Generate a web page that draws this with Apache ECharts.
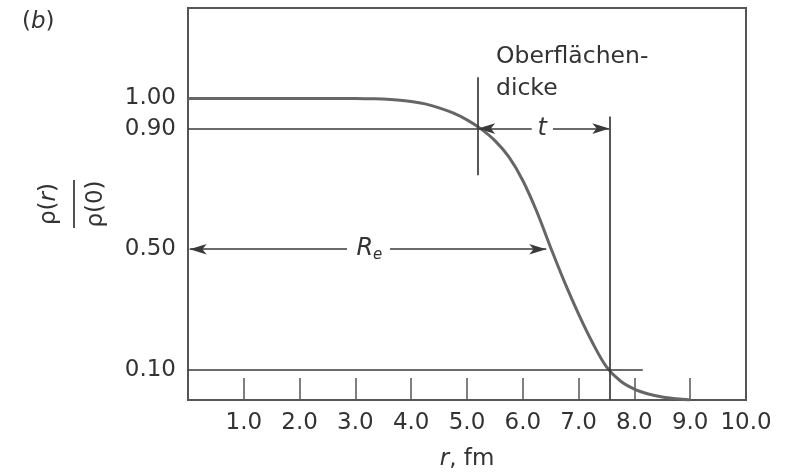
<!DOCTYPE html>
<html><head><meta charset="utf-8">
<script src="https://cdn.jsdelivr.net/npm/echarts@6/dist/echarts.min.js"></script>
<style>html,body{margin:0;padding:0;background:#fff}#c{width:786px;height:476px}</style>
</head><body><div id="c"></div>
<script>
// radius r (fm) and relative density rho(r)/rho(0)
const rValues       = [0, 0.25, 0.5, 0.75, 1, 1.25, 1.5, 1.75, 2, 2.25, 2.5, 2.75, 3, 3.25, 3.5, 3.75, 4, 4.25, 4.5, 4.75, 5, 5.25, 5.5, 5.75, 6, 6.25, 6.5, 6.75, 7, 7.25, 7.5, 7.75, 8, 8.25, 8.5, 8.75, 9];
const densityValues = [1, 1, 1, 1, 1, 1, 1, 1, 1, 1, 1, 1, 1, 0.999, 0.998, 0.995, 0.99, 0.982, 0.969, 0.952, 0.929, 0.899, 0.86, 0.806, 0.728, 0.625, 0.505, 0.39, 0.285, 0.19, 0.11, 0.063, 0.036, 0.02, 0.01, 0.004, 0.0];
const xTickValues = [1, 2, 3, 4, 5, 6, 7, 8, 9];
const xLabelValues = [1, 2, 3, 4, 5, 6, 7, 8, 9, 10];
const yLabelValues = [0.10, 0.50, 0.90, 1.00];
// annotation positions (data units)
const r90 = 5.2;     // r where density = 0.9
const r10 = 7.55;    // r where density = 0.1
const rHalf = 6.42;  // tip of R_e arrow
const levelHigh = 0.9, levelHalf = 0.5, levelLow = 0.1;

const FONT = 'DejaVu Sans';
const FS = 23;
const TXT = '#333';
const LINE = '#3a3a3a';

const chart = echarts.init(document.getElementById('c'), null, {renderer: 'canvas'});
const seg = (a, b, arrowEnd) => [
  {coord: a, symbol: 'none'},
  {coord: b, symbol: arrowEnd ? 'arrow' : 'none', symbolSize: [8, 17]}
];

chart.setOption({
  animation: false,
  backgroundColor: '#fff',
  grid: {left: 188, right: 40, top: 8, bottom: 76, show: true, borderColor: '#555', borderWidth: 2, backgroundColor: 'transparent'},
  xAxis: {
    type: 'value', min: 0, max: 10, interval: 1,
    axisLine: {show: true, lineStyle: {color: '#555', width: 2}},
    axisTick: {show: true, inside: true, length: 22, customValues: xTickValues, lineStyle: {color: '#555', width: 1.5}},
    axisLabel: {customValues: xLabelValues, formatter: v => v.toFixed(1), fontFamily: FONT, fontSize: FS, color: TXT, margin: 12},
    splitLine: {show: false},
    name: '{i|r}, fm', nameLocation: 'middle', nameGap: 48,
    nameTextStyle: {fontFamily: FONT, fontSize: FS, color: TXT, rich: {i: {fontFamily: FONT, fontSize: FS, fontStyle: 'italic', color: TXT}}}
  },
  yAxis: {
    type: 'value', min: 0, max: 1.3,
    axisLine: {show: true, lineStyle: {color: '#555', width: 2}},
    axisTick: {show: false},
    axisLabel: {customValues: yLabelValues, formatter: v => v.toFixed(2), fontFamily: FONT, fontSize: FS, color: TXT, margin: 12},
    splitLine: {show: false}
  },
  series: [{
    type: 'line',
    data: rValues.map((r, i) => [r, densityValues[i]]),
    smooth: 0.35, showSymbol: false,
    lineStyle: {color: '#666', width: 3},
    markLine: {
      silent: true, animation: false,
      label: {show: false},
      lineStyle: {color: LINE, width: 1.7, type: 'solid'},
      data: [
        seg([0, levelHigh], [r90, levelHigh], false),
        seg([r90, 1.07], [r90, 0.745], false),
        seg([6.16, levelHigh], [r90, levelHigh], true),
        seg([6.54, levelHigh], [r10, levelHigh], true),
        seg([r10, 0.94], [r10, 0], false),
        seg([0, levelLow], [8.15, levelLow], false),
        seg([2.85, levelHalf], [0.03, levelHalf], true),
        seg([3.62, levelHalf], [rHalf, levelHalf], true)
      ]
    }
  }]
});

const px = (x, y) => chart.convertToPixel({gridIndex: 0}, [x, y]);
const pRe = px(3.25, levelHalf);
const pT = px(6.35, levelHigh);

chart.setOption({
  graphic: [
    {type: 'text', left: 22, top: 11, style: {text: '({i|b})', fontFamily: FONT, fontSize: FS, fill: TXT,
      rich: {i: {fontFamily: FONT, fontSize: FS, fontStyle: 'italic', fill: TXT}}}},
    {type: 'text', x: pRe[0], y: pRe[1], style: {text: '{i|R}{s|e}', align: 'center', verticalAlign: 'middle',
      rich: {i: {fontFamily: FONT, fontSize: 24, fontStyle: 'italic', fill: TXT}, s: {fontFamily: FONT, fontSize: 15, fontStyle: 'italic', fill: TXT, verticalAlign: 'bottom', padding: [12, 0, 0, 0]}}}},
    {type: 'text', x: pT[0], y: pT[1], style: {text: 't', align: 'center', verticalAlign: 'middle', fontFamily: FONT, fontSize: 24, fontStyle: 'italic', fill: TXT}},
    {type: 'text', x: 496, y: 41, style: {text: 'Oberflächen-\ndicke', fontFamily: FONT, fontSize: 23.5, lineHeight: 32, fill: TXT}},
    {type: 'group', x: 74, y: 204, rotation: Math.PI / 2, children: [
      {type: 'text', x: 0, y: -13, style: {text: 'ρ({i|r})', align: 'center', verticalAlign: 'bottom', fontFamily: FONT, fontSize: FS, fill: TXT,
        rich: {i: {fontFamily: FONT, fontSize: FS, fontStyle: 'italic', fill: TXT}}}},
      {type: 'line', shape: {x1: -24, y1: 0, x2: 24, y2: 0}, style: {stroke: TXT, lineWidth: 1.7}},
      {type: 'text', x: 0, y: 11, style: {text: 'ρ(0)', align: 'center', verticalAlign: 'top', fontFamily: FONT, fontSize: FS, fill: TXT}}
    ]}
  ]
});
</script></body></html>
